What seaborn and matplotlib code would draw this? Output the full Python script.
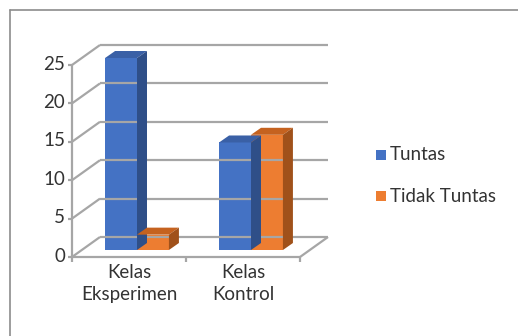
import matplotlib
matplotlib.use("Agg")
import matplotlib.pyplot as plt
import seaborn as sns
import pandas as pd
from matplotlib.patches import Polygon
from matplotlib.transforms import Affine2D

# data
kelas = ["Kelas\nEksperimen", "Kelas\nKontrol"]
tuntas = [25, 14]
tidak_tuntas = [2, 15]
series = ["Tuntas", "Tidak Tuntas"]
yticks = [0, 5, 10, 15, 20, 25]

df = pd.DataFrame({
    "kelas": kelas * 2,
    "nilai": tuntas + tidak_tuntas,
    "seri": [series[0]] * 2 + [series[1]] * 2,
})

sns.set_style("white")
plt.rcParams["font.family"] = ["Lato", "DejaVu Sans"]

front = ["#4472C4", "#ED7D31"]
top_c = ["#3A60A6", "#C5621F"]
side_c = ["#2F4F88", "#A0511A"]
grid_c = "#A6A6A6"
txt_c = "#333333"
FS = 13.5

fig = plt.figure(figsize=(5.18, 3.36), dpi=100)
# front plane: x -0.5..1.5 -> px 72..300, y 0..25 -> px 257..65
ax = fig.add_axes([72 / 518, 79 / 336, 228 / 518, 192 / 336])

sns.barplot(data=df, x="kelas", y="nilai", hue="seri", hue_order=series,
            palette=front, width=0.56, ax=ax, legend=False, saturation=1)
ax.set_xlim(-0.5, 1.5)
ax.set_ylim(0, 25)

for s in ax.spines.values():
    s.set_visible(False)
ax.set_xlabel("")
ax.set_ylabel("")
ax.set_xticks([])
ax.set_yticks([])

# depth geometry in pixels (display coords; y up)
DX, DY = 28, 20          # full floor depth
BX0, BY0 = 8, 7          # bar front offset
BX1, BY1 = 18, 14        # bar back offset

T = ax.transData
fig.canvas.draw()


def px(x, y):
    return T.transform((x, y))


def poly(pts, color, z):
    p = Polygon(pts, closed=True, facecolor=color, edgecolor=color, lw=0,
                transform=None, zorder=z, clip_on=False)
    fig.add_artist(p)


def line(p0, p1, z=1):
    fig.add_artist(plt.Line2D([p0[0], p1[0]], [p0[1], p1[1]], color=grid_c,
                              lw=1.6, transform=None, zorder=z,
                              solid_capstyle="butt"))


# back wall gridlines and the left wall diagonals
for v in yticks:
    a = px(-0.5, v)
    b = px(1.5, v)
    line((a[0] + DX, a[1] + DY), (b[0] + DX, b[1] + DY))
    line(a, (a[0] + DX, a[1] + DY))
# front axis lines
a0, a1 = px(-0.5, 0), px(-0.5, 25)
line(a0, a1, 3)
b0 = px(1.5, 0)
line(a0, b0, 3)
line(b0, (b0[0] + DX, b0[1] + DY), 3)
for xt in [-0.5, 0.5, 1.5]:
    p = px(xt, 0)
    line(p, (p[0], p[1] - 5), 3)
for v in yticks:
    p = px(-0.5, v)
    line(p, (p[0] - 4, p[1]), 3)
    fig.text((p[0] - 7) / 518, (p[1] + 1) / 336, str(v), ha="right",
             va="center", fontsize=FS, color=txt_c)

for i, k in enumerate(kelas):
    p = px(i, 0)
    fig.text(p[0] / 518, (p[1] - 7) / 336, k, ha="center", va="top",
             fontsize=FS, color=txt_c, linespacing=1.35)

# shift bars back and add the side/top faces
for bar in ax.patches:
    x0, y0 = bar.get_x(), bar.get_y()
    w, h = bar.get_width(), bar.get_height()
    idx = 0 if bar.get_facecolor()[2] > 0.5 else 1
    bar.set_transform(T + Affine2D().translate(BX0, BY0))
    bar.set_zorder(5)
    bar.set_clip_on(False)
    bar.set_linewidth(0)
    l0, l1, t = px(x0, h), px(x0 + w, h), px(x0 + w, y0)
    poly([(l0[0] + BX0, l0[1] + BY0), (l1[0] + BX0, l1[1] + BY0),
          (l1[0] + BX1, l1[1] + BY1), (l0[0] + BX1, l0[1] + BY1)],
         top_c[idx], 4)
    poly([(t[0] + BX0, t[1] + BY0), (l1[0] + BX0, l1[1] + BY0),
          (l1[0] + BX1, l1[1] + BY1), (t[0] + BX1, t[1] + BY1)],
         side_c[idx], 4)

# legend
for j, name in enumerate(series):
    yy = 336 - (155 + 41 * j)
    fig.add_artist(plt.Rectangle((376 / 518, (yy - 5) / 336), 10 / 518,
                                 10 / 336, facecolor=front[j], lw=0,
                                 transform=fig.transFigure))
    fig.text(390 / 518, yy / 336, name, ha="left", va="center",
             fontsize=FS, color=txt_c)

# chart border (top and left)
fig.add_artist(plt.Line2D([9.5 / 518, 1], [1 - 9.5 / 336, 1 - 9.5 / 336],
                          color="#8C8C8C", lw=1.2, transform=fig.transFigure))
fig.add_artist(plt.Line2D([9.5 / 518, 9.5 / 518], [0, 1 - 9.5 / 336],
                          color="#8C8C8C", lw=1.2, transform=fig.transFigure))

fig.savefig("out.png", dpi=100)
